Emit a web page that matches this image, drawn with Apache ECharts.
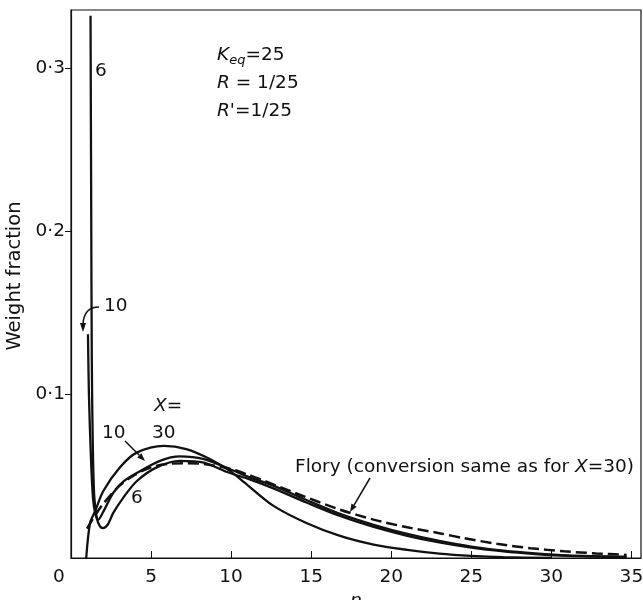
<!DOCTYPE html>
<html lang="en">
<head>
    <meta charset="UTF-8">
    <title>Weight fraction vs n</title>
    <style>
        html, body { margin: 0; padding: 0; background: #fff; }
        #container { width: 643px; height: 600px; }
    </style>
</head>
<body>
<div id="container"></div>
<script src="https://cdn.jsdelivr.net/npm/echarts@6/dist/echarts.min.js"></script>
<script>
    // data: [n, weight fraction]
    var xTicks = [5, 10, 15, 20, 25, 30, 35];
    var yTicks = [0.1, 0.2, 0.3];

    var curve6 = [[1.22, 0.332], [1.26, 0.22], [1.3, 0.12], [1.36, 0.07], [1.45, 0.038], [1.6, 0.025],
        [1.8, 0.0195], [2.0, 0.0183], [2.3, 0.0205], [2.64, 0.0276], [3.27, 0.037], [4.1, 0.047],
        [5.35, 0.0555], [6.8, 0.0595], [8.3, 0.0584], [9.7, 0.0528], [11.2, 0.048], [12.6, 0.0428],
        [14.7, 0.034], [16.8, 0.0257], [18.9, 0.019], [21, 0.0136], [23, 0.0095], [25, 0.0063],
        [27, 0.004], [29, 0.0024], [31, 0.0013], [34.7, 0.0005]];

    var curve10 = [[1.06, 0.137], [1.12, 0.1], [1.25, 0.06], [1.38, 0.036], [1.52, 0.027], [1.7, 0.0235],
        [2.0, 0.028], [2.65, 0.040], [3.3, 0.047], [4.1, 0.052], [5.56, 0.0595], [6.8, 0.0622],
        [8.3, 0.0605], [9.9, 0.0545], [11.2, 0.0492], [12.6, 0.0445], [14.7, 0.0355], [16.8, 0.027],
        [18.9, 0.0203], [21, 0.0147], [23, 0.0105], [25, 0.007], [27, 0.0045], [29, 0.0028],
        [31, 0.0016], [34.7, 0.0008]];

    var curve30 = [[0.95, 0], [1.19, 0.0214], [1.5, 0.0285], [2.02, 0.041], [3.06, 0.0555], [4.1, 0.0645],
        [5.8, 0.0687], [7.2, 0.0667], [8.7, 0.0605], [9.9, 0.0535], [10.8, 0.0465], [12.6, 0.0322],
        [14.7, 0.0214], [16.8, 0.0135], [18.9, 0.0082], [21, 0.005], [23, 0.0027], [25, 0.0013],
        [27, 0.0005], [30, 0]];

    var flory = [[1, 0.018], [1.5, 0.026], [2, 0.033], [3, 0.044], [4, 0.051], [5, 0.0555], [6, 0.0575],
        [7, 0.058], [8, 0.0578], [9, 0.0565], [10, 0.0545], [11, 0.0512], [12, 0.0475], [14, 0.0398],
        [16.8, 0.0296], [18.9, 0.0235], [21, 0.0188], [23, 0.0152], [24.5, 0.0122], [26.6, 0.0087],
        [28.7, 0.006], [30.8, 0.0041], [32.8, 0.0028], [34.7, 0.0019]];

    var ink = '#111';
    var font = 'DejaVu Sans';
    var fs = 18.5;

    function arrow(x1, y1, x2, y2) {
        var dx = x2 - x1, dy = y2 - y1;
        var len = Math.sqrt(dx * dx + dy * dy);
        var ux = dx / len, uy = dy / len;
        var bx = x2 - ux * 8, by = y2 - uy * 8;
        return [
            { type: 'line', shape: { x1: x1, y1: y1, x2: bx, y2: by }, style: { stroke: ink, lineWidth: 1.5 } },
            { type: 'polygon', shape: { points: [[x2, y2], [bx - uy * 3, by + ux * 3], [bx + uy * 3, by - ux * 3]] },
              style: { fill: ink } }
        ];
    }

    function label(x, y, text, rich) {
        return { type: 'text', x: x, y: y,
            style: { text: text, fill: ink, font: fs + 'px "' + font + '"', verticalAlign: 'middle', rich: rich || {} } };
    }

    var italic = { i: { fontStyle: 'italic', fontSize: fs, fontFamily: font, fill: ink },
                   sub: { fontStyle: 'italic', fontSize: 13, fontFamily: font, fill: ink, padding: [11, 0, 0, 0] } };

    var graphics = [
        label(53, 577, '0'),
        label(95, 71, '6'),
        label(104, 306, '10'),
        label(154, 406, '{i|X}=', italic),
        label(152, 433, '30'),
        label(102, 433, '10'),
        label(131, 498, '6'),
        label(295, 467, 'Flory (conversion same as for {i|X}=30)', italic),
        label(217, 55, '{i|K}{sub|eq}=25', italic),
        label(217, 83, '{i|R} = 1/25', italic),
        label(217, 111, "{i|R'}=1/25", italic),
        { type: 'bezierCurve', shape: { x1: 99, y1: 307, cpx1: 84, cpy1: 307, x2: 83, y2: 324 },
          style: { stroke: ink, lineWidth: 1.5, fill: null } },
        { type: 'polygon', shape: { points: [[80, 323], [86, 323], [83, 332]] }, style: { fill: ink } }
    ].concat(arrow(125, 441, 145, 461), arrow(370, 478, 350, 512));

    function line(name, data, width, dashed) {
        return {
            name: name, type: 'line', data: data, showSymbol: false,
            smooth: 0.3,
            lineStyle: { color: ink, width: width, type: dashed ? [11, 5] : 'solid' }
        };
    }

    var myChart = echarts.init(document.getElementById('container'));
    var option = {
        backgroundColor: '#fff',
        animation: false,
        grid: { left: 71, right: 2, top: 10, bottom: 42, outerBoundsMode: 'none', containLabel: false,
            show: true, borderColor: ink, borderWidth: 1.2 },
        xAxis: {
            type: 'value', min: 0, max: 35.6, name: 'n', nameLocation: 'middle', nameGap: 34,
            nameTextStyle: { fontStyle: 'italic', fontSize: fs, fontFamily: font, color: ink },
            splitLine: { show: false },
            axisLine: { onZero: false, lineStyle: { color: ink, width: 1.2 } },
            axisTick: { inside: true, length: 7, customValues: xTicks, lineStyle: { color: ink } },
            axisLabel: { customValues: xTicks, fontSize: fs, fontFamily: font, color: ink, margin: 10 }
        },
        yAxis: {
            type: 'value', min: 0, max: 0.3355, name: 'Weight fraction', nameLocation: 'middle', nameGap: 42,
            nameTextStyle: { fontSize: 19.5, fontFamily: font, color: ink, padding: [0, 0, 0, 16] },
            splitLine: { show: false },
            axisLine: { show: true, lineStyle: { color: ink, width: 1.2 } },
            axisTick: { show: true, length: 6, customValues: yTicks, lineStyle: { color: ink } },
            axisLabel: { customValues: yTicks, fontSize: fs, fontFamily: font, color: ink, margin: 6,
                formatter: function (v) { return String(v.toFixed(1)).replace('.', '\u00b7'); } }
        },
        series: [
            line('X=6', curve6, 2.3, false),
            line('X=10', curve10, 2.3, false),
            line('X=30', curve30, 2.3, false),
            line('Flory', flory, 2.5, true)
        ],
        graphic: graphics
    };

    if (option && typeof option === "object") {
        myChart.setOption(option, true);
    }
</script>
</body>
</html>
